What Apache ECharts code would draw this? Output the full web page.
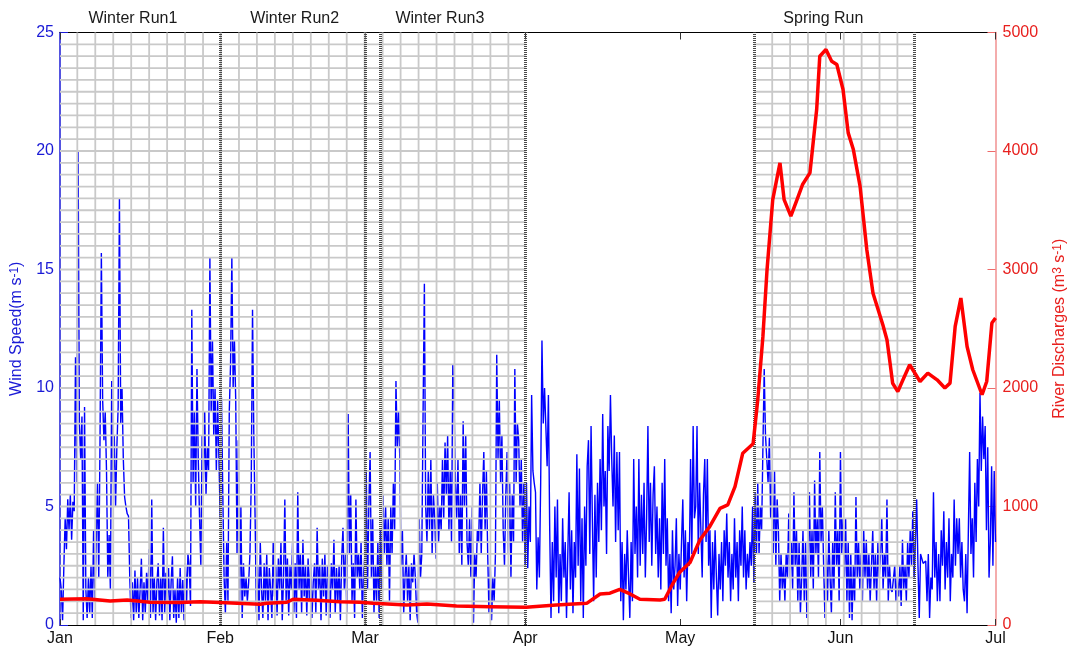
<!DOCTYPE html>
<html>
<head>
<meta charset="utf-8">
<title>Wind speed and river discharge, Jan–Jul</title>
<script src="https://cdn.jsdelivr.net/npm/echarts@6.0.0/dist/echarts.min.js"></script>
<style>
  html, body { margin: 0; padding: 0; background: #ffffff; }
  #chart { width: 1068px; height: 648px; }
</style>
</head>
<body>
<div id="chart"></div>
<script>
// ---- Time axis: days counted from 1 January ----
const monthNames = ['Jan', 'Feb', 'Mar', 'Apr', 'May', 'Jun', 'Jul'];
const monthStartDays = [0, 31, 59, 90, 120, 151, 181];

// ---- Model runs ----
const runNames = ['Winter Run1', 'Winter Run2', 'Winter Run3', 'Spring Run'];
const runLabelDays = [14.1, 45.4, 73.5, 147.7];
const runBoundaryDays = [31, 59, 62, 90.1, 134.25, 165.25];

// Output mesh shown inside the run windows
const meshStart = [0, 134.25];
const meshEnd = [90.1, 165.25];
const meshFirstLine = [3.35, 137.8];
const meshLineStep = [3.475, 3.46];   // days between vertical mesh lines
const meshSpeedStep = 0.5;            // m/s between horizontal mesh lines

// ---- Wind speed (m/s), 6-hourly samples, one array per month ----
const windSampleStep = 0.25; // days
const windJan = [
  2.0, 1.5, 0.2, 2.5,   4.5, 3.2, 5.3, 4.0,   5.5, 3.6, 5.2, 4.8,   11.3, 6.0, 20.0, 8.5,
  7.0, 8.8, 0.2, 9.2,   1.5, 0.3, 2.0, 0.5,   2.5, 0.3, 4.0, 1.0,   3.5, 6.0, 2.0, 8.0,
  15.7, 9.5, 7.8, 9.0,  6.5, 2.0, 3.8, 1.5,   10.3, 6.0, 8.0, 5.0,  7.5, 9.2, 18.0, 8.5,
  10.0, 7.0, 5.4, 5.0,  4.7, 4.6, 2.0, 0.3,   1.8, 0.2, 2.3, 0.5,   2.0, 0.3, 1.5, 2.8,
  0.2, 1.8, 0.5, 2.2,   1.0, 3.2, 0.3, 5.3,   0.5, 2.0, 0.2, 1.8,   2.6, 0.4, 2.0, 0.2,
  4.1, 0.5, 2.2, 1.0,   2.4, 0.2, 1.8, 2.9,   0.3, 1.5, 0.1, 2.0,   0.3, 2.4, 0.5, 1.9,
  0.2, 2.6, 1.0, 3.0,   2.5, 0.8, 13.3, 6.0,  9.0, 5.0, 10.8, 7.0,  4.5, 2.5, 8.0, 6.0,
  9.0, 5.5, 7.5, 6.5,   15.5, 9.0, 12.0, 8.0, 10.0, 6.5, 9.5, 7.0
];
const windFeb = [
  4.5, 9.6, 5.5, 2.0,   0.5, 3.5, 1.0, 9.0,   11.0, 15.5, 10.0, 12.0, 9.5, 3.0, 7.8, 1.0,
  5.0, 0.3, 2.6, 1.2,   2.0, 1.0, 1.8, 3.0,   6.0, 13.3, 8.0, 4.5,  0.5, 2.5, 0.2, 3.5,
  1.5, 0.3, 2.6, 1.0,   3.0, 0.2, 2.4, 1.5,   0.3, 3.5, 1.2, 2.5,   0.4, 2.8, 1.5, 3.5,
  0.2, 2.0, 5.3, 1.0,   2.8, 0.4, 2.5, 1.5,   3.5, 0.5, 2.6, 0.3,   5.6, 1.5, 3.0, 0.5,
  3.6, 1.2, 2.5, 0.4,   2.8, 1.0, 2.6, 0.3,   1.8, 2.6, 0.5, 4.1,   1.5, 2.5, 0.2, 2.8,
  1.2, 3.0, 0.4, 2.5,   2.0, 0.3, 2.6, 1.5,   3.6, 0.5, 2.4, 1.0,   2.5, 0.2, 2.8, 4.1,
  1.5, 3.0, 0.5, 8.9,   3.0, 5.5, 1.0, 2.6,   0.3, 5.3, 2.0, 3.0,   1.5, 3.5, 0.3, 2.2
];
const windMar = [
  3.0, 6.5, 1.5, 5.0,   7.3, 2.0, 4.5, 0.5,   2.5, 1.0, 3.5, 0.3,   4.0, 1.5, 5.5, 3.0,
  5.0, 2.5, 4.5, 1.0,   5.0, 3.0, 6.0, 4.0,   10.3, 7.5, 9.0, 7.0,  2.5, 4.0, 0.5, 2.0,
  3.0, 1.0, 2.5, 0.2,   2.6, 1.8, 3.0, 2.0,   0.5, 0.1, 4.5, 2.0,   3.0, 9.0, 14.4, 5.0,
  3.5, 6.5, 4.0, 7.0,   3.0, 5.5, 4.5, 2.8,   6.0, 3.5, 5.0, 4.0,   7.0, 4.5, 7.7, 5.5,
  8.0, 4.0, 6.5, 3.5,   11.0, 9.3, 6.0, 4.5,  7.0, 3.0, 5.5, 2.5,   8.6, 5.0, 8.0, 3.5,
  2.5, 4.5, 2.0, 5.0,   0.1, 3.0, 2.0, 4.0,   3.5, 6.0, 3.0, 5.5,   7.3, 4.0, 6.5, 3.0,
  0.5, 2.5, 0.2, 2.0,   1.0, 3.0, 11.4, 7.0,  9.5, 6.0, 8.0, 4.0,   2.5, 5.5, 7.3, 3.0,
  6.0, 2.0, 5.5, 3.5,   10.8, 6.0, 8.5, 7.8,  5.0, 7.0, 3.5, 6.0
];
const windApr = [
  2.5, 6.0, 2.4, 5.0,   3.5, 9.7, 6.5, 6.0,   5.6, 1.5, 3.7, 2.0,   6.0, 12.0, 8.5, 10.0,
  8.4, 6.7, 9.7, 4.0,   0.3, 3.5, 1.0, 5.0,   2.0, 5.3, 0.5, 3.0,   1.0, 4.5, 2.0, 3.5,
  0.3, 3.0, 5.6, 1.5,   4.0, 0.5, 3.5, 2.0,   7.2, 2.5, 6.6, 1.0,   4.5, 0.3, 5.0, 2.5,
  6.7, 7.8, 3.0, 8.4,   4.5, 1.0, 5.5, 2.0,   6.0, 3.5, 7.0, 4.0,   8.9, 5.0, 6.5, 3.0,
  8.4, 6.5, 9.7, 7.0,   5.0, 8.0, 3.5, 7.3,   4.0, 7.3, 1.0, 3.5,   0.2, 3.0, 1.5, 4.0,
  2.0, 0.3, 3.5, 1.0,   7.0, 3.0, 5.0, 2.0,   7.0, 2.5, 5.5, 3.0,   6.0, 2.0, 4.5, 8.4,
  3.5, 6.0, 2.5, 5.5,   6.7, 3.0, 5.0, 2.0,   4.5, 1.5, 6.0, 3.0,   7.0, 2.5, 4.5, 1.0,
  3.0, 0.5, 4.0, 1.5,   2.5, 4.5, 0.8, 3.0
];
const windMay = [
  1.5, 3.5, 5.3, 2.0,   4.0, 1.0, 3.5, 2.5,   7.0, 3.0, 8.4, 4.5,   5.0, 8.4, 3.0, 6.0,
  4.0, 2.0, 5.5, 7.0,   3.5, 7.0, 2.5, 4.0,   0.3, 3.5, 1.5, 4.0,   2.0, 0.4, 3.0, 1.5,
  3.5, 1.0, 4.0, 2.5,   4.7, 2.0, 3.5, 1.0,   3.0, 1.5, 4.5, 2.0,   3.5, 1.0, 4.0, 2.5,
  5.0, 2.0, 4.0, 1.5,   3.0, 2.0, 3.5, 2.5,   5.0, 1.8, 5.6, 3.0,   6.0, 3.0, 5.0, 4.0,
  7.5, 10.8, 8.0, 7.0,  6.0, 7.9, 4.5, 6.5,   3.0, 6.5, 2.5, 5.3,   4.0, 1.0, 3.0, 1.5,
  2.5, 1.0, 3.0, 2.0,   4.7, 2.0, 3.5, 1.5,   5.6, 2.5, 4.0, 1.0,   3.5, 0.5, 2.0, 4.0,
  1.0, 3.5, 0.3, 2.5,   5.6, 2.0, 4.0, 1.5,   6.1, 3.0, 4.5, 2.0,   7.3, 3.5, 5.0, 2.5,
  0.3, 3.0, 1.0, 4.0,   2.0, 0.5, 3.5, 1.5,   5.6, 2.5, 4.0, 1.0
];
const windJun = [
  7.3, 3.0, 4.5, 2.0,   4.5, 1.0, 3.5, 0.3,   3.0, 0.2, 2.5, 1.0,   5.4, 2.0, 3.5, 1.5,
  3.0, 1.0, 4.0, 2.0,   3.6, 1.5, 3.0, 1.0,   2.5, 4.0, 1.5, 3.0,   1.0, 3.5, 2.0, 3.0,
  4.5, 1.5, 3.0, 2.0,   5.3, 1.0, 2.5, 1.5,   1.4, 1.4, 2.5, 1.0,   2.0, 1.2, 2.5, 0.8,
  3.6, 1.5, 2.5, 1.0,   3.5, 2.0, 4.0, 2.5,   4.8, 2.0, 3.5, 5.3,   2.5, 0.3, 3.0, 3.0,
  2.6, 2.6, 2.7, 1.0,   3.0, 0.3, 2.0, 1.5,   5.6, 2.0, 3.5, 1.0,   3.0, 1.0, 4.0, 2.5,
  4.8, 1.5, 3.5, 2.0,   4.5, 1.0, 3.0, 2.0,   5.3, 2.5, 4.5, 3.0,   4.5, 2.0, 3.5, 1.5,
  1.0, 3.0, 0.5, 4.0,   7.3, 3.0, 4.5, 2.0,   6.0, 3.5, 7.0, 5.0,   9.8, 6.5, 8.8, 7.0,
  8.4, 4.0, 7.5, 2.0,   3.5, 6.7, 2.5, 6.5,   3.5
];
const windByMonth = [windJan, windFeb, windMar, windApr, windMay, windJun];

// ---- River discharge (m3/s) ----
const flowDays = [
  0, 5.2, 9.7, 13.0, 17.4, 23.2, 27.1, 31.0, 38.7, 40.0, 43.9, 45.1, 49.7, 54.2, 58.0,
  60.6, 67.1, 71.0, 76.7, 83.2, 90.2, 96.0, 101.9, 104.5, 106.4, 108.3, 110.3, 112.2,
  116.1, 117.0, 118.6, 119.9, 121.9, 123.8, 125.7, 127.7, 129.2, 130.6, 132.1, 134.1,
  135.0, 136.0, 136.8, 137.9, 139.3, 140.1, 141.4, 142.6, 143.7, 145.1, 146.4, 147.0,
  148.2, 149.3, 150.3, 151.5, 152.5, 153.5, 154.8, 156.1, 157.3, 159.2, 160.0, 160.6,
  161.1, 162.1, 163.1, 164.4, 166.4, 167.9, 169.7, 171.2, 172.2, 173.2, 174.3, 175.5,
  176.6, 178.4, 179.3, 180.3, 181
];
const flowValues = [
  217, 222, 203, 211, 192, 189, 197, 189, 175, 183, 192, 217, 208, 197, 192,
  183, 169, 177, 160, 155, 149, 169, 183, 262, 268, 301, 262, 217,
  211, 217, 352, 445, 528, 718, 830, 985, 1013, 1168, 1450, 1530,
  1900, 2435, 3000, 3590, 3900, 3590, 3450, 3590, 3720, 3815, 4350, 4800,
  4856, 4758, 4730, 4519, 4153, 4012, 3702, 3167, 2800, 2534, 2407, 2210,
  2040, 1970, 2069, 2196, 2055, 2126, 2069, 2000, 2041, 2520, 2759, 2350,
  2154, 1943, 2055, 2548, 2590
];

// ---- Build series data ----
const windData = [];
windByMonth.forEach(function (values, m) {
  values.forEach(function (v, i) {
    windData.push([monthStartDays[m] + i * windSampleStep, v]);
  });
});
const flowData = flowDays.map(function (d, i) { return [d, flowValues[i]]; });
const meshData = meshStart.map(function (s, i) {
  return [s, meshEnd[i], meshFirstLine[i], meshLineStep[i]];
});

const FONT = "'Liberation Sans', Arial, Helvetica, sans-serif";
const BLUE = '#1a1ad6';
const RED = '#e8201e';
const SPEED_MAX = 25;

const chart = echarts.init(document.getElementById('chart'), null, { renderer: 'canvas' });

chart.setOption({
  animation: false,
  backgroundColor: '#ffffff',
  textStyle: { fontFamily: FONT },
  grid: { left: 60, right: 72.5, top: 32.5, bottom: 23, containLabel: false, outerBoundsMode: 'none' },
  xAxis: [
    {
      type: 'value', min: 0, max: 181, position: 'bottom',
      axisLine: { onZero: false, lineStyle: { color: '#000', width: 1 } },
      axisTick: { inside: true, length: 6, customValues: monthStartDays, lineStyle: { color: '#333' } },
      axisLabel: {
        customValues: monthStartDays, margin: 6, color: '#111', fontSize: 16, fontFamily: FONT,
        formatter: function (v) { return monthNames[monthStartDays.indexOf(v)]; }
      },
      splitLine: { show: false }
    },
    {
      type: 'value', min: 0, max: 181, position: 'top',
      axisLine: { onZero: false, lineStyle: { color: '#000', width: 1 } },
      axisTick: { inside: true, length: 7, customValues: monthStartDays, lineStyle: { color: '#333' } },
      axisLabel: {
        customValues: runLabelDays, margin: 6, color: '#1a1a1a', fontSize: 16, fontFamily: FONT,
        formatter: function (v) { return runNames[runLabelDays.indexOf(v)]; }
      },
      splitLine: { show: false }
    }
  ],
  yAxis: [
    {
      type: 'value', min: 0, max: SPEED_MAX, interval: 5, position: 'left',
      name: 'Wind Speed(m s{sup|-1})',
      nameLocation: 'middle', nameGap: 35, nameRotate: 90,
      nameTextStyle: {
        color: BLUE, fontSize: 16, fontFamily: FONT,
        rich: { sup: { color: BLUE, fontSize: 12, verticalAlign: 'top', lineHeight: 10, fontFamily: FONT } }
      },
      axisLine: { show: true, onZero: false, lineStyle: { color: BLUE, width: 1.5 } },
      axisTick: { show: true, inside: true, length: 8, lineStyle: { color: BLUE } },
      axisLabel: { color: BLUE, fontSize: 16, margin: 6, fontFamily: FONT },
      splitLine: { show: false }
    },
    {
      type: 'value', min: 0, max: 5000, interval: 1000, position: 'right',
      name: 'River Discharges (m{sup|3} s{sup|-1})',
      nameLocation: 'middle', nameGap: 56, nameRotate: 90,
      nameTextStyle: {
        color: RED, fontSize: 16, fontFamily: FONT,
        rich: { sup: { color: RED, fontSize: 12, verticalAlign: 'top', lineHeight: 10, fontFamily: FONT } }
      },
      axisLine: { show: true, onZero: false, lineStyle: { color: '#f09090', width: 1.5 } },
      axisTick: { show: true, inside: true, length: 8, lineStyle: { color: '#ee6a6a' } },
      axisLabel: {
        color: RED, fontSize: 16, margin: 7, fontFamily: FONT,
        formatter: function (v) { return String(v); }
      },
      splitLine: { show: false }
    }
  ],
  series: [
    {
      name: 'Wind Speed',
      type: 'line',
      xAxisIndex: 0, yAxisIndex: 0,
      data: windData,
      showSymbol: false,
      sampling: 'none',
      lineStyle: { color: '#0000ff', width: 1.4 },
      z: 1,
      silent: true
    },
    {
      name: 'Run mesh',
      type: 'custom',
      xAxisIndex: 0, yAxisIndex: 0,
      data: meshData,
      dimensions: ['start', 'end', 'first', 'step'],
      encode: { x: [0, 1] },
      z: 2,
      silent: true,
      renderItem: function (params, api) {
        const start = api.value(0), end = api.value(1);
        const first = api.value(2), step = api.value(3);
        const left = api.coord([start, 0])[0];
        const right = api.coord([end, 0])[0];
        const bottom = api.coord([start, 0])[1];
        const top = api.coord([start, SPEED_MAX])[1];
        const style = { stroke: '#c9c9c9', lineWidth: 1.8 };
        const children = [];
        for (let v = meshSpeedStep; v < SPEED_MAX - 1e-6; v += meshSpeedStep) {
          const y = api.coord([start, v])[1];
          children.push({ type: 'line', shape: { x1: left, y1: y, x2: right, y2: y }, style: style });
        }
        for (let d = first; d < end - 0.5; d += step) {
          const x = api.coord([d, 0])[0];
          children.push({ type: 'line', shape: { x1: x, y1: top, x2: x, y2: bottom }, style: style });
        }
        return { type: 'group', children: children };
      }
    },
    {
      name: 'Run boundaries',
      type: 'line',
      xAxisIndex: 0, yAxisIndex: 0,
      data: [],
      z: 3,
      silent: true,
      markLine: {
        silent: true,
        symbol: ['none', 'none'],
        label: { show: false },
        lineStyle: { color: '#4a4a4a', width: 3, type: [1, 1] },
        data: runBoundaryDays.map(function (d) { return { xAxis: d }; })
      }
    },
    {
      name: 'River Discharges',
      type: 'line',
      xAxisIndex: 0, yAxisIndex: 1,
      data: flowData,
      showSymbol: false,
      lineStyle: { color: '#ff0000', width: 3.5 },
      z: 5,
      silent: true
    }
  ]
});
</script>
</body>
</html>
